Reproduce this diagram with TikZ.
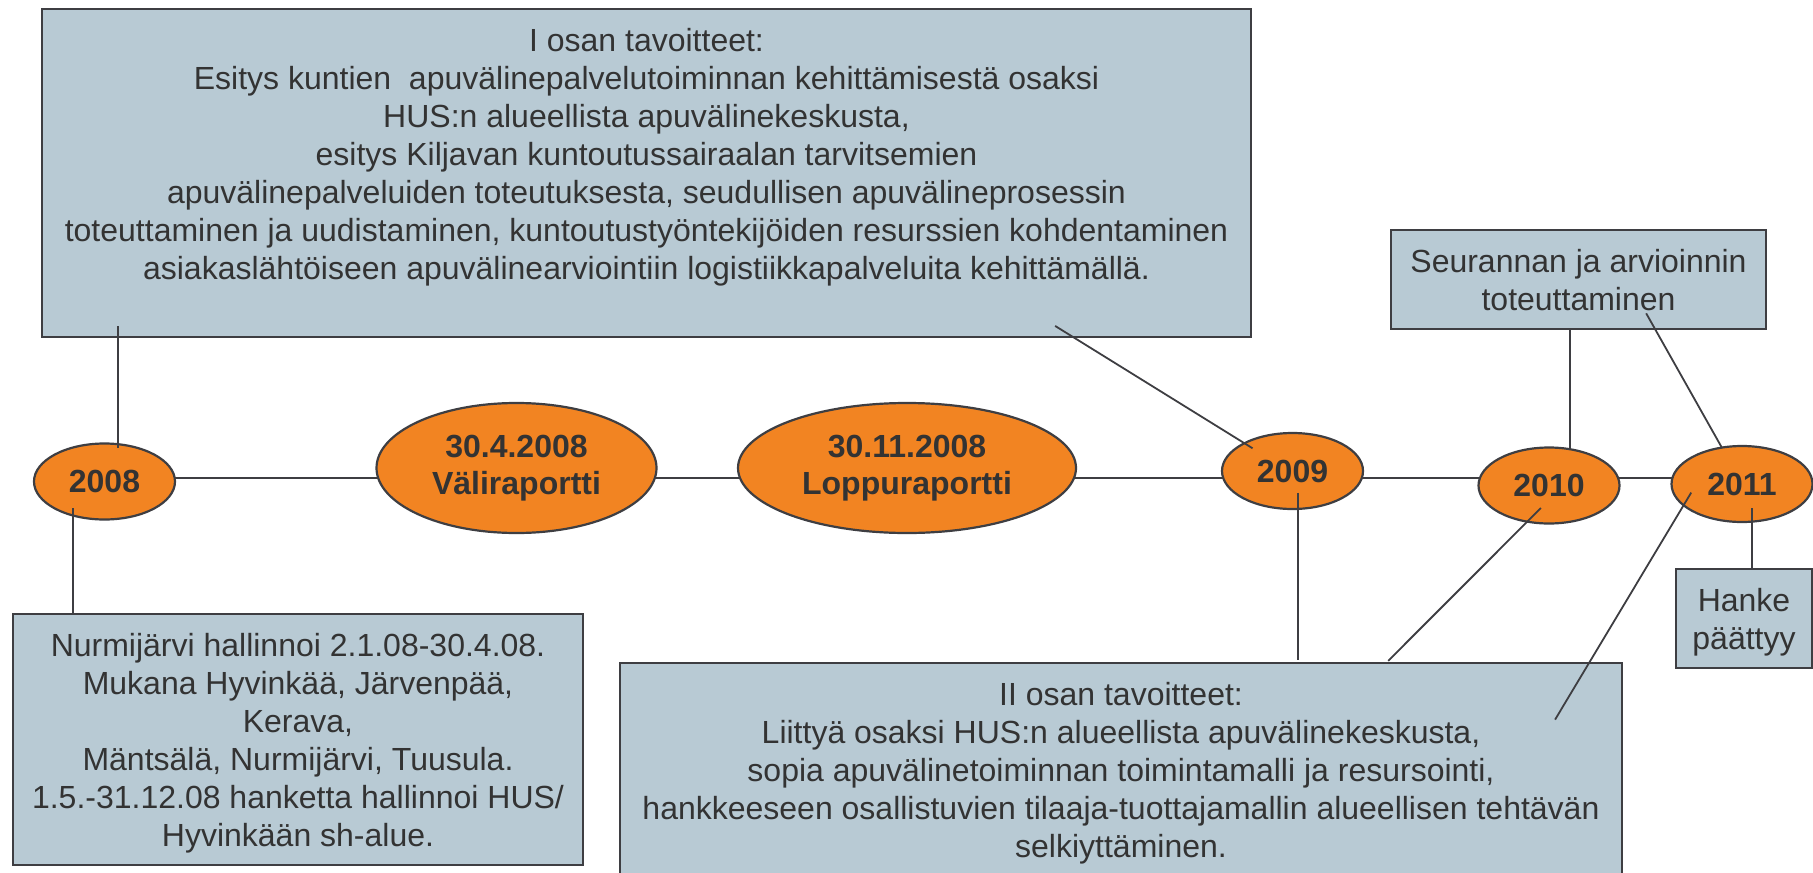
\documentclass[tikz,border=0pt]{standalone}
\usepackage{fontspec}
\setmainfont{Liberation Sans}
\usetikzlibrary{shapes.geometric,backgrounds}

\definecolor{naranja}{RGB}{242,132,34}
\definecolor{cajaazul}{RGB}{184,202,212}
\definecolor{linea}{RGB}{62,62,66}
\definecolor{texto}{RGB}{51,51,51}

\tikzset{
  hito/.style={ellipse, draw=linea, line width=1.1pt, fill=naranja, text=texto,
    inner sep=0pt, outer sep=0pt, minimum width=70.5pt, minimum height=38pt,
    font=\fontsize{16}{18.5}\selectfont\bfseries, align=center},
  caja/.style={rectangle, draw=linea, line width=1.2pt, fill=cajaazul, text=texto,
    inner sep=0pt, outer sep=0pt, text height=#1, text depth=9.5pt, anchor=north,
    font=\fontsize{16}{19}\selectfont, align=center},
  enlace/.style={draw=linea, line width=0.9pt},
  eje/.style={draw=linea, line width=1.2pt}
}

\begin{document}
\begin{tikzpicture}[x=0.5pt, y=-0.5pt]
                      \useasboundingbox (0, 0) rectangle (1813, 872);

                      % Hitos de la linea de tiempo
                      \node (y2008) at (104.5, 481.5) [hito] {2008};
                      \node (vali) at (516.5, 468) [hito, minimum width=140pt, minimum height=65pt] {30.4.2008\\Väliraportti};
                      \node (loppu) at (907, 468) [hito, minimum width=169pt, minimum height=65pt] {30.11.2008\\Loppuraportti};
                      \node (y2009) at (1292.5, 471) [hito] {2009};
                      \node (y2010) at (1549, 485.5) [hito] {2010};
                      \node (y2011) at (1742, 484) [hito] {2011};

                      % Linea de tiempo (detras de los hitos)
                      \begin{scope}[on background layer]
                          \draw[eje] (y2008 |- 0,478) -- (y2011 |- 0,478);
                      \end{scope}

                      % Cajas de texto
                      \node (goal1) at (646.5, 9) [caja=135pt, text depth=29pt, minimum width=604.5pt] {I osan tavoitteet:\\
                          Esitys kuntien \ apuvälinepalvelutoiminnan kehittämisestä osaksi\\
                          HUS:n alueellista apuvälinekeskusta,\\
                          esitys Kiljavan kuntoutussairaalan tarvitsemien\\
                          apuvälinepalveluiden toteutuksesta, seudullisen apuvälineprosessin\\
                          toteuttaminen ja uudistaminen, kuntoutustyöntekijöiden resurssien kohdentaminen\\
                          asiakaslähtöiseen apuvälinearviointiin logistiikkapalveluita kehittämällä.};
                      \node (note1) at (298, 614) [caja=116pt, minimum width=285pt] {Nurmijärvi hallinnoi 2.1.08-30.4.08.\\
                          Mukana Hyvinkää, Järvenpää,\\
                          Kerava,\\
                          Mäntsälä, Nurmijärvi, Tuusula.\\
                          1.5.-31.12.08 hanketta hallinnoi HUS/\\
                          Hyvinkään sh-alue.};
                      \node (goal2) at (1121, 663) [caja=97pt, minimum width=501pt] {II osan tavoitteet:\\
                          Liittyä osaksi HUS:n alueellista apuvälinekeskusta,\\
                          sopia apuvälinetoiminnan toimintamalli ja resursointi,\\
                          hankkeeseen osallistuvien tilaaja-tuottajamallin alueellisen tehtävän\\
                          selkiyttäminen.};
                      \node (follow) at (1578.5, 230) [caja=40pt, minimum width=187.5pt] {Seurannan ja arvioinnin\\toteuttaminen};
                      \node (endbox) at (1744, 569) [caja=40pt, minimum width=68pt] {Hanke\\päättyy};

                      % Lineas de llamada
                      \draw[enlace, shorten <=-5.5pt, shorten >=-1.7pt] (y2008.70 |- goal1.south) -- (y2008.70);
                      \draw[enlace, shorten <=-3.5pt] (y2008.227) -- (y2008.227 |- note1.north);
                      \draw[enlace, shorten <=-10.5pt, shorten >=-4.8pt] (goal1.south -| 1073,0) -- (y2009.150);
                      \draw[enlace, shorten <=-8pt, shorten >=1.5pt] (y2009.278) -- (y2009.278 |- goal2.north);
                      \draw[enlace, shorten <=-9.6pt, shorten >=1.5pt] (y2010.239) -- (goal2.north -| 1386,0);
                      \draw[enlace, shorten <=-7.4pt, shorten >=-33pt] (y2011.200) -- (goal2.north -| 1589,0);
                      \draw[enlace, shorten <=-6.8pt] (y2011.285) -- (y2011.285 |- endbox.north);
                      \draw[enlace] (follow.south -| y2010.60) -- (y2010.60);
                      \draw[enlace, shorten <=-9pt] (follow.south -| 1655,0) -- (y2011.119);
                  \end{tikzpicture}
\end{document}
